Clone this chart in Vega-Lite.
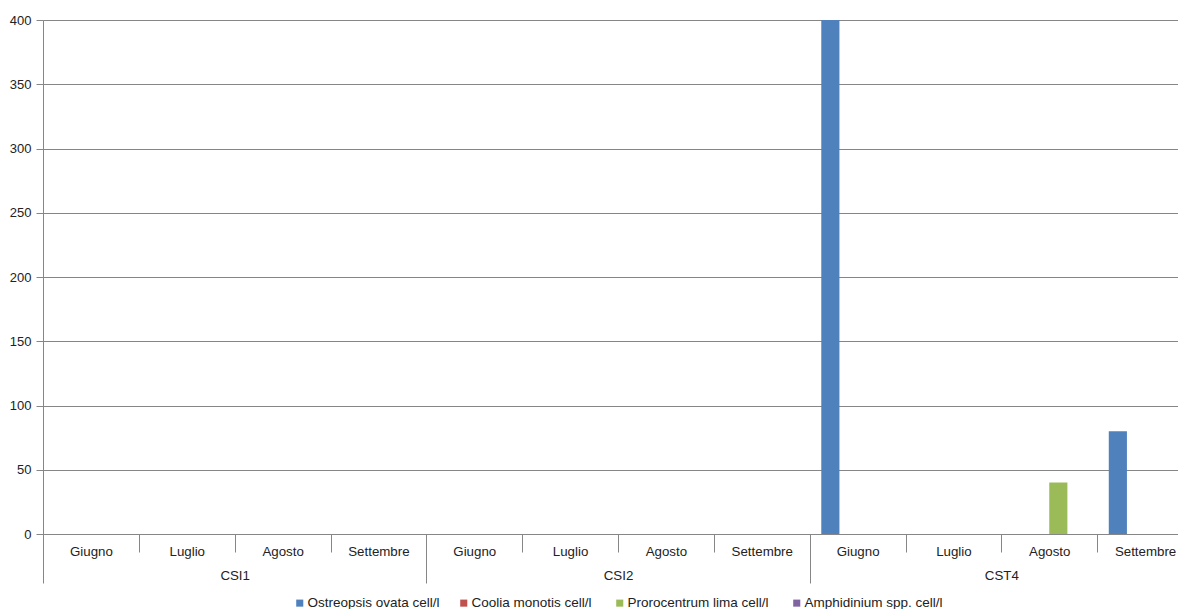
{
  "$schema": "https://vega.github.io/schema/vega-lite/v6.json",
  "autosize": "none",
  "width": 1150,
  "height": 514,
  "padding": {"left": 43, "top": 20, "right": 0, "bottom": 75},
  "background": "white",
  "config": {
    "font": "Liberation Sans",
    "view": {"stroke": null},
    "axis": {"labelFont": "Liberation Sans", "labelColor": "#222222", "labelFontSize": 13.3, "domainColor": "#868686", "tickColor": "#868686", "gridColor": "#868686"},
    "legend": {"layout": {"bottom": {"anchor": "middle"}}}
  },
  "data": {"values": [
    {"station": "CSI1", "month": "Giugno", "key": "CSI1|Giugno", "series": "Ostreopsis ovata cell/l", "value": 0},
    {"station": "CSI1", "month": "Giugno", "key": "CSI1|Giugno", "series": "Coolia monotis  cell/l", "value": 0},
    {"station": "CSI1", "month": "Giugno", "key": "CSI1|Giugno", "series": "Prorocentrum lima  cell/l", "value": 0},
    {"station": "CSI1", "month": "Giugno", "key": "CSI1|Giugno", "series": "Amphidinium spp. cell/l", "value": 0},
    {"station": "CSI1", "month": "Luglio", "key": "CSI1|Luglio", "series": "Ostreopsis ovata cell/l", "value": 0},
    {"station": "CSI1", "month": "Luglio", "key": "CSI1|Luglio", "series": "Coolia monotis  cell/l", "value": 0},
    {"station": "CSI1", "month": "Luglio", "key": "CSI1|Luglio", "series": "Prorocentrum lima  cell/l", "value": 0},
    {"station": "CSI1", "month": "Luglio", "key": "CSI1|Luglio", "series": "Amphidinium spp. cell/l", "value": 0},
    {"station": "CSI1", "month": "Agosto", "key": "CSI1|Agosto", "series": "Ostreopsis ovata cell/l", "value": 0},
    {"station": "CSI1", "month": "Agosto", "key": "CSI1|Agosto", "series": "Coolia monotis  cell/l", "value": 0},
    {"station": "CSI1", "month": "Agosto", "key": "CSI1|Agosto", "series": "Prorocentrum lima  cell/l", "value": 0},
    {"station": "CSI1", "month": "Agosto", "key": "CSI1|Agosto", "series": "Amphidinium spp. cell/l", "value": 0},
    {"station": "CSI1", "month": "Settembre", "key": "CSI1|Settembre", "series": "Ostreopsis ovata cell/l", "value": 0},
    {"station": "CSI1", "month": "Settembre", "key": "CSI1|Settembre", "series": "Coolia monotis  cell/l", "value": 0},
    {"station": "CSI1", "month": "Settembre", "key": "CSI1|Settembre", "series": "Prorocentrum lima  cell/l", "value": 0},
    {"station": "CSI1", "month": "Settembre", "key": "CSI1|Settembre", "series": "Amphidinium spp. cell/l", "value": 0},
    {"station": "CSI2", "month": "Giugno", "key": "CSI2|Giugno", "series": "Ostreopsis ovata cell/l", "value": 0},
    {"station": "CSI2", "month": "Giugno", "key": "CSI2|Giugno", "series": "Coolia monotis  cell/l", "value": 0},
    {"station": "CSI2", "month": "Giugno", "key": "CSI2|Giugno", "series": "Prorocentrum lima  cell/l", "value": 0},
    {"station": "CSI2", "month": "Giugno", "key": "CSI2|Giugno", "series": "Amphidinium spp. cell/l", "value": 0},
    {"station": "CSI2", "month": "Luglio", "key": "CSI2|Luglio", "series": "Ostreopsis ovata cell/l", "value": 0},
    {"station": "CSI2", "month": "Luglio", "key": "CSI2|Luglio", "series": "Coolia monotis  cell/l", "value": 0},
    {"station": "CSI2", "month": "Luglio", "key": "CSI2|Luglio", "series": "Prorocentrum lima  cell/l", "value": 0},
    {"station": "CSI2", "month": "Luglio", "key": "CSI2|Luglio", "series": "Amphidinium spp. cell/l", "value": 0},
    {"station": "CSI2", "month": "Agosto", "key": "CSI2|Agosto", "series": "Ostreopsis ovata cell/l", "value": 0},
    {"station": "CSI2", "month": "Agosto", "key": "CSI2|Agosto", "series": "Coolia monotis  cell/l", "value": 0},
    {"station": "CSI2", "month": "Agosto", "key": "CSI2|Agosto", "series": "Prorocentrum lima  cell/l", "value": 0},
    {"station": "CSI2", "month": "Agosto", "key": "CSI2|Agosto", "series": "Amphidinium spp. cell/l", "value": 0},
    {"station": "CSI2", "month": "Settembre", "key": "CSI2|Settembre", "series": "Ostreopsis ovata cell/l", "value": 0},
    {"station": "CSI2", "month": "Settembre", "key": "CSI2|Settembre", "series": "Coolia monotis  cell/l", "value": 0},
    {"station": "CSI2", "month": "Settembre", "key": "CSI2|Settembre", "series": "Prorocentrum lima  cell/l", "value": 0},
    {"station": "CSI2", "month": "Settembre", "key": "CSI2|Settembre", "series": "Amphidinium spp. cell/l", "value": 0},
    {"station": "CST4", "month": "Giugno", "key": "CST4|Giugno", "series": "Ostreopsis ovata cell/l", "value": 400},
    {"station": "CST4", "month": "Giugno", "key": "CST4|Giugno", "series": "Coolia monotis  cell/l", "value": 0},
    {"station": "CST4", "month": "Giugno", "key": "CST4|Giugno", "series": "Prorocentrum lima  cell/l", "value": 0},
    {"station": "CST4", "month": "Giugno", "key": "CST4|Giugno", "series": "Amphidinium spp. cell/l", "value": 0},
    {"station": "CST4", "month": "Luglio", "key": "CST4|Luglio", "series": "Ostreopsis ovata cell/l", "value": 0},
    {"station": "CST4", "month": "Luglio", "key": "CST4|Luglio", "series": "Coolia monotis  cell/l", "value": 0},
    {"station": "CST4", "month": "Luglio", "key": "CST4|Luglio", "series": "Prorocentrum lima  cell/l", "value": 0},
    {"station": "CST4", "month": "Luglio", "key": "CST4|Luglio", "series": "Amphidinium spp. cell/l", "value": 0},
    {"station": "CST4", "month": "Agosto", "key": "CST4|Agosto", "series": "Ostreopsis ovata cell/l", "value": 0},
    {"station": "CST4", "month": "Agosto", "key": "CST4|Agosto", "series": "Coolia monotis  cell/l", "value": 0},
    {"station": "CST4", "month": "Agosto", "key": "CST4|Agosto", "series": "Prorocentrum lima  cell/l", "value": 40},
    {"station": "CST4", "month": "Agosto", "key": "CST4|Agosto", "series": "Amphidinium spp. cell/l", "value": 0},
    {"station": "CST4", "month": "Settembre", "key": "CST4|Settembre", "series": "Ostreopsis ovata cell/l", "value": 80},
    {"station": "CST4", "month": "Settembre", "key": "CST4|Settembre", "series": "Coolia monotis  cell/l", "value": 0},
    {"station": "CST4", "month": "Settembre", "key": "CST4|Settembre", "series": "Prorocentrum lima  cell/l", "value": 0},
    {"station": "CST4", "month": "Settembre", "key": "CST4|Settembre", "series": "Amphidinium spp. cell/l", "value": 0}
  ]},
  "layer": [
    {
      "mark": {"type": "bar"},
      "encoding": {
        "x": {"field": "key", "type": "nominal", "sort": null,
          "scale": {"paddingInner": 0, "paddingOuter": 0},
          "axis": {"title": null, "labelExpr": "split(datum.value, '|')[1]", "labelAngle": 0, "tickBand": "extent", "tickSize": 18, "labelPadding": -8, "labelBaseline": "top"}},
        "xOffset": {"field": "series", "type": "nominal",
          "sort": ["Ostreopsis ovata cell/l", "Coolia monotis  cell/l", "Prorocentrum lima  cell/l", "Amphidinium spp. cell/l"],
          "scale": {"paddingInner": 0, "paddingOuter": 0.64}},
        "y": {"field": "value", "type": "quantitative", "stack": null,
          "scale": {"domain": [0, 400], "nice": false},
          "axis": {"title": null, "values": [0, 50, 100, 150, 200, 250, 300, 350, 400], "grid": true, "tickSize": 7, "labelPadding": 5, "domain": true, "labelFontSize": 13}},
        "color": {"field": "series", "type": "nominal",
          "sort": ["Ostreopsis ovata cell/l", "Coolia monotis  cell/l", "Prorocentrum lima  cell/l", "Amphidinium spp. cell/l"],
          "scale": {"domain": ["Ostreopsis ovata cell/l", "Coolia monotis  cell/l", "Prorocentrum lima  cell/l", "Amphidinium spp. cell/l"], "range": ["#4F81BD", "#C0504D", "#9BBB59", "#8064A2"]},
          "legend": {"title": null, "orient": "bottom", "direction": "horizontal", "symbolType": "square", "symbolSize": 50, "symbolStrokeWidth": 0, "labelFontSize": 13.5, "labelFont": "Liberation Sans", "labelColor": "#222222", "columnPadding": 17, "offset": 12, "labelOffset": 1}}
      }
    },
    {
      "mark": {"type": "bar", "opacity": 0},
      "encoding": {
        "x": {"field": "station", "type": "nominal",
          "scale": {"paddingInner": 0, "paddingOuter": 0},
          "axis": {"orient": "bottom", "title": null, "labelAngle": 0, "tickBand": "extent", "tickSize": 49, "labelPadding": -15, "labelBaseline": "top", "domain": false}},
        "y": {"field": "value", "type": "quantitative", "stack": null}
      }
    }
  ],
  "resolve": {"scale": {"x": "independent"}}
}
